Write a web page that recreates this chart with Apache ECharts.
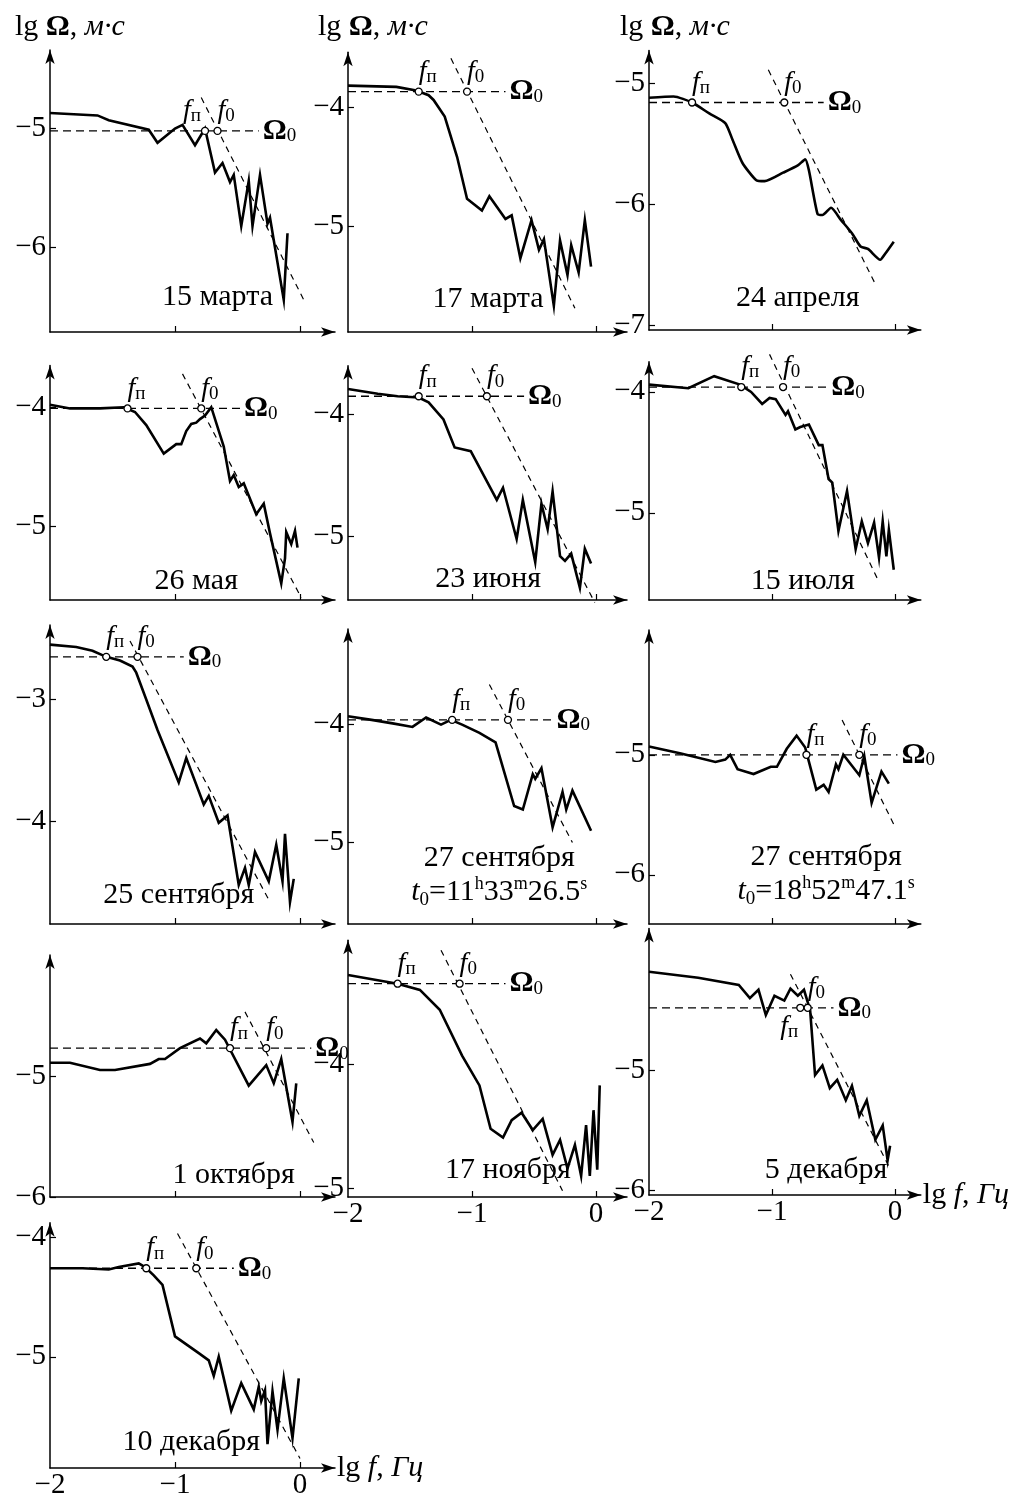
<!DOCTYPE html>
<html><head><meta charset="utf-8">
<script src="https://cdn.jsdelivr.net/npm/echarts@6/dist/echarts.min.js"></script>
<style>html,body{margin:0;padding:0;background:#fff}#c{width:1012px;height:1500px}</style>
</head><body><div id="c"></div>
<script>
// ---------- DATA (lg f [Hz], lg Ω [m·s]) ----------
const dates = ['15 марта','17 марта','24 апреля','26 мая','23 июня','15 июля','25 сентября',
  ['27 сентября','11','33','26.5'],['27 сентября','18','52','47.1'],'1 октября','17 ноября','5 декабря','10 декабря'];

const spec15Mar = [[-2,-4.87],[-1.62,-4.89],[-1.53,-4.93],[-1.21,-5.01],[-1.14,-5.12],[-1.0,-5.0],[-0.94,-4.97],[-0.84,-5.14],[-0.76,-5.0],[-0.68,-5.37],[-0.62,-5.29],[-0.56,-5.45],[-0.53,-5.39],[-0.47,-5.82],[-0.41,-5.44],[-0.38,-5.82],[-0.32,-5.39],[-0.26,-5.8],[-0.24,-5.75],[-0.13,-6.44],[-0.1,-5.88]];
const spec17Mar = [[-2,-3.82],[-1.61,-3.83],[-1.45,-3.86],[-1.35,-3.9],[-1.31,-3.94],[-1.22,-4.08],[-1.12,-4.42],[-1.04,-4.77],[-0.92,-4.87],[-0.86,-4.75],[-0.73,-4.94],[-0.68,-4.91],[-0.61,-5.27],[-0.52,-4.95],[-0.46,-5.2],[-0.42,-5.11],[-0.34,-5.67],[-0.29,-5.12],[-0.23,-5.41],[-0.2,-5.16],[-0.14,-5.39],[-0.09,-4.95],[-0.04,-5.34]];
const spec24Apr = [[-2,-5.12],[-1.8,-5.11],[-1.65,-5.16],[-1.51,-5.25],[-1.38,-5.33],[-1.32,-5.47],[-1.24,-5.66],[-1.13,-5.8],[-1.06,-5.81],[-0.91,-5.74],[-0.79,-5.68],[-0.73,-5.63],[-0.7,-5.72],[-0.63,-6.08],[-0.59,-6.09],[-0.52,-6.03],[-0.44,-6.13],[-0.35,-6.24],[-0.28,-6.35],[-0.22,-6.37],[-0.12,-6.46],[-0.08,-6.41],[-0.01,-6.31]];
const spec26May = [[-2,-3.98],[-1.84,-4.01],[-1.6,-4.01],[-1.41,-4.0],[-1.32,-4.04],[-1.23,-4.15],[-1.09,-4.39],[-0.99,-4.31],[-0.95,-4.31],[-0.91,-4.2],[-0.87,-4.14],[-0.83,-4.13],[-0.8,-4.1],[-0.76,-4.07],[-0.71,-4.0],[-0.61,-4.33],[-0.56,-4.62],[-0.53,-4.57],[-0.49,-4.67],[-0.45,-4.64],[-0.35,-4.9],[-0.29,-4.81],[-0.24,-5.06],[-0.15,-5.48],[-0.12,-5.27],[-0.11,-5.05],[-0.07,-5.15],[-0.04,-5.04],[-0.02,-5.18]];
const spec23Jun = [[-2,-3.79],[-1.76,-3.83],[-1.6,-3.85],[-1.43,-3.86],[-1.35,-3.9],[-1.23,-4.04],[-1.14,-4.27],[-1.01,-4.3],[-0.8,-4.7],[-0.75,-4.6],[-0.64,-5.02],[-0.59,-4.7],[-0.49,-5.21],[-0.44,-4.73],[-0.39,-4.94],[-0.35,-4.63],[-0.29,-5.16],[-0.25,-5.2],[-0.2,-5.14],[-0.13,-5.42],[-0.09,-5.1],[-0.04,-5.22]];
const spec15Jul = [[-2,-3.94],[-1.68,-3.97],[-1.47,-3.87],[-1.26,-3.94],[-1.17,-4.0],[-1.08,-4.1],[-1.02,-4.05],[-0.97,-4.06],[-0.89,-4.19],[-0.87,-4.16],[-0.81,-4.31],[-0.77,-4.29],[-0.7,-4.27],[-0.62,-4.44],[-0.59,-4.44],[-0.54,-4.72],[-0.51,-4.75],[-0.46,-5.15],[-0.39,-4.82],[-0.32,-5.3],[-0.27,-5.07],[-0.22,-5.25],[-0.17,-5.08],[-0.13,-5.37],[-0.1,-5.07],[-0.07,-5.36],[-0.05,-5.14],[-0.01,-5.47]];
const spec25Sep = [[-2,-2.55],[-1.79,-2.57],[-1.66,-2.6],[-1.55,-2.65],[-1.44,-2.68],[-1.34,-2.73],[-1.31,-2.78],[-1.23,-3.0],[-1.14,-3.25],[-0.97,-3.68],[-0.91,-3.48],[-0.77,-3.86],[-0.73,-3.79],[-0.65,-4.01],[-0.58,-3.95],[-0.49,-4.52],[-0.44,-4.38],[-0.41,-4.52],[-0.36,-4.25],[-0.25,-4.49],[-0.19,-4.19],[-0.14,-4.49],[-0.12,-4.1],[-0.08,-4.66],[-0.05,-4.47]];
const spec27SepA = [[-2,-3.93],[-1.81,-3.96],[-1.64,-3.99],[-1.48,-4.02],[-1.37,-3.94],[-1.25,-4.0],[-1.17,-3.96],[-1.08,-4.0],[-0.94,-4.07],[-0.81,-4.15],[-0.66,-4.69],[-0.59,-4.72],[-0.51,-4.42],[-0.49,-4.46],[-0.44,-4.37],[-0.35,-4.87],[-0.27,-4.57],[-0.24,-4.72],[-0.19,-4.56],[-0.04,-4.9]];
const spec27SepB = [[-2,-4.93],[-1.74,-4.99],[-1.46,-5.06],[-1.38,-5.04],[-1.34,-5.0],[-1.28,-5.12],[-1.15,-5.16],[-1.01,-5.1],[-0.96,-5.1],[-0.88,-4.95],[-0.8,-4.84],[-0.73,-4.94],[-0.64,-5.29],[-0.58,-5.25],[-0.54,-5.31],[-0.48,-5.08],[-0.46,-5.12],[-0.42,-5.0],[-0.29,-5.17],[-0.25,-5.01],[-0.19,-5.4],[-0.11,-5.14],[-0.05,-5.24]];
const spec1Oct = [[-2,-4.89],[-1.84,-4.89],[-1.6,-4.95],[-1.48,-4.95],[-1.2,-4.9],[-1.13,-4.86],[-1.08,-4.86],[-0.96,-4.77],[-0.8,-4.69],[-0.75,-4.73],[-0.67,-4.62],[-0.6,-4.7],[-0.41,-5.08],[-0.27,-4.91],[-0.21,-5.06],[-0.15,-4.86],[-0.06,-5.38],[-0.03,-5.06]];
const spec17Nov = [[-2,-3.28],[-1.6,-3.35],[-1.42,-3.4],[-1.26,-3.56],[-1.08,-3.93],[-0.94,-4.17],[-0.85,-4.52],[-0.75,-4.59],[-0.68,-4.45],[-0.6,-4.39],[-0.51,-4.53],[-0.43,-4.44],[-0.35,-4.73],[-0.29,-4.61],[-0.23,-4.84],[-0.17,-4.65],[-0.12,-4.9],[-0.08,-4.49],[-0.05,-4.9],[-0.02,-4.37],[0.01,-4.85],[0.03,-4.17]];
const spec5Dec = [[-2,-4.18],[-1.6,-4.23],[-1.27,-4.29],[-1.18,-4.4],[-1.11,-4.33],[-1.05,-4.54],[-0.98,-4.38],[-0.9,-4.42],[-0.85,-4.32],[-0.79,-4.38],[-0.74,-4.33],[-0.69,-4.5],[-0.65,-5.04],[-0.59,-4.96],[-0.53,-5.15],[-0.47,-5.08],[-0.4,-5.25],[-0.35,-5.13],[-0.29,-5.38],[-0.23,-5.25],[-0.16,-5.58],[-0.1,-5.46],[-0.06,-5.75],[-0.04,-5.63]];
const spec10Dec = [[-2,-4.26],[-1.74,-4.26],[-1.53,-4.27],[-1.45,-4.25],[-1.29,-4.22],[-1.24,-4.25],[-1.17,-4.32],[-1.1,-4.4],[-1.0,-4.83],[-0.81,-4.97],[-0.73,-5.03],[-0.69,-5.16],[-0.65,-5.0],[-0.55,-5.45],[-0.47,-5.22],[-0.37,-5.44],[-0.33,-5.25],[-0.31,-5.37],[-0.28,-5.28],[-0.26,-5.73],[-0.22,-5.29],[-0.18,-5.61],[-0.13,-5.18],[-0.06,-5.68],[-0.01,-5.18]];
const spectra = [spec15Mar,spec17Mar,spec24Apr,spec26May,spec23Jun,spec15Jul,spec25Sep,spec27SepA,spec27SepB,spec1Oct,spec17Nov,spec5Dec,spec10Dec];

// Ω0 level, corner frequencies fп and f0 (lg)
const omega0 = [-5.02,-3.87,-5.16,-4.01,-3.85,-3.96,-2.65,-3.96,-5.0,-4.77,-3.35,-4.48,-4.26];
const lgfP   = [-0.76,-1.43,-1.65,-1.38,-1.43,-1.25,-1.55,-1.16,-0.72,-0.56,-1.6,-0.77,-1.23];
const lgf0   = [-0.66,-1.04,-0.9,-0.79,-0.88,-0.91,-1.3,-0.71,-0.29,-0.27,-1.1,-0.71,-0.83];
const omegaLineEnd = [-0.33,-0.73,-0.58,-0.48,-0.58,-0.55,-0.93,-0.35,0.02,0.09,-0.73,-0.5,-0.53];
// f^-2 asymptote end points
const slopeStart = [[-0.79,-4.74],[-1.17,-3.59],[-1.03,-4.89],[-0.94,-3.72],[-1.0,-3.62],[-1.02,-3.69],[-1.36,-2.52],[-0.86,-3.66],[-0.43,-4.71],[-0.44,-4.47],[-1.25,-3.08],[-0.85,-4.2],[-0.98,-3.97]];
const slopeEnd   = [[0.04,-6.46],[-0.17,-5.69],[-0.16,-6.66],[0.01,-5.6],[-0.01,-5.54],[-0.14,-5.55],[-0.24,-4.66],[-0.19,-5.0],[-0.01,-5.58],[0.11,-5.55],[-0.27,-5.02],[-0.05,-5.8],[0.0,-5.85]];
// date label anchors (centre)
const dateAnchor = [[-0.66,-6.42],[-0.87,-5.61],[-0.79,-6.78],[-0.83,-5.46],[-0.87,-5.35],[-0.75,-5.56],[-0.97,-4.6],[-0.78,-5.275],[-0.56,-5.995],[-0.53,-5.82],[-0.71,-4.85],[-0.56,-5.83],[-0.87,-5.71]];
// tick labels
const yTickVals = [[-6,-5],[-5,-4],[-7,-6,-5],[-5,-4],[-5,-4],[-5,-4],[-4,-3],[-5,-4],[-6,-5],[-6,-5],[-5,-4],[-6,-5],[-5,-4]];
const xTickVals = [-2,-1,0];

// ---------- LAYOUT ----------
const colLeft = [50,348,649], unitX = [125,124,123], xMaxes = [0.28,0.25,0.21];
const layout = [
  {col:0,bottom:332,yMin:-6.71,yMax:-4.34,uy:119},
  {col:1,bottom:332,yMin:-5.89,yMax:-3.54,uy:119},
  {col:2,bottom:330,yMin:-7.04,yMax:-4.73,uy:121,smooth:0.2},
  {col:0,bottom:600,yMin:-5.62,yMax:-3.65,uy:119},
  {col:1,bottom:600,yMin:-5.52,yMax:-3.6,uy:122},
  {col:2,bottom:600,yMin:-5.72,yMax:-3.75,uy:121},
  {col:0,bottom:924,yMin:-4.84,yMax:-2.39,uy:122},
  {col:1,bottom:924,yMin:-5.69,yMax:-3.19,uy:118},
  {col:2,bottom:924,yMin:-6.41,yMax:-3.96,uy:120},
  {col:0,bottom:1197,yMin:-6.0,yMax:-4.0,uy:121},
  {col:1,bottom:1197,yMin:-5.07,yMax:-3.0,uy:124,xLabels:true},
  {col:2,bottom:1195,yMin:-6.04,yMax:-3.82,uy:120,xLabels:true,xName:true},
  {col:0,bottom:1477,yMin:-5.93,yMax:-3.88,uy:124,xLabels:true,xName:true}
];
const fpSide = ['left','right','right','right','right','right','right','right','right','right','right','below','right'];

const SERIF = 'Liberation Serif';
const INK = '#000';
const T = {color:INK,textBorderWidth:0,textBorderColor:'transparent',textShadowBlur:0,opacity:1};
const rich = {
  n:Object.assign({fontFamily:SERIF,fontSize:30,lineHeight:34},T),
  i:Object.assign({fontFamily:SERIF,fontSize:30,fontStyle:'italic',lineHeight:34},T),
  b:Object.assign({fontFamily:SERIF,fontSize:30,fontWeight:'bold',lineHeight:34},T),
  f:Object.assign({fontFamily:SERIF,fontSize:28,fontStyle:'italic',lineHeight:30},T),
  s:Object.assign({fontFamily:SERIF,fontSize:19,lineHeight:15,verticalAlign:'bottom'},T),
  o:Object.assign({fontFamily:SERIF,fontSize:30,fontWeight:'bold',lineHeight:30},T),
  sup:Object.assign({fontFamily:SERIF,fontSize:18,lineHeight:16,verticalAlign:'top'},T),
  ts:Object.assign({fontFamily:SERIF,fontSize:19,lineHeight:14,verticalAlign:'bottom'},T)
};
const minus = v => String(v).replace('-', '\u2212');

const grids=[], xAxes=[], yAxes=[], series=[];
layout.forEach((L,i)=>{
  const c=L.col, h=(L.yMax-L.yMin)*L.uy;
  grids.push({left:colLeft[c], top:L.bottom-h, width:(xMaxes[c]+2)*unitX[c], height:h});
  xAxes.push({gridIndex:i,type:'value',min:-2,max:xMaxes[c],splitLine:{show:false},
    axisLine:{onZero:false,lineStyle:{color:INK,width:1.5},symbol:['none','arrow'],symbolSize:[7,14]},
    axisTick:{inside:true,length:6,customValues:[-1,0],lineStyle:{color:INK,width:1.2}},
    axisLabel:{show:!!L.xLabels,customValues:xTickVals,formatter:minus,fontFamily:SERIF,fontSize:29,color:INK,margin:3},
    name:L.xName?'{n|lg }{i|f}{n|, }{i|Гц}':'',nameLocation:'end',nameGap:2,
    nameTextStyle:{rich:rich,align:'left',verticalAlign:'middle'}
  });
  yAxes.push({gridIndex:i,type:'value',min:L.yMin,max:L.yMax,splitLine:{show:false},
    axisLine:{onZero:false,lineStyle:{color:INK,width:1.5},symbol:['none','arrow'],symbolSize:[7,14]},
    axisTick:{inside:true,length:6,customValues:yTickVals[i],lineStyle:{color:INK,width:1.2}},
    axisLabel:{customValues:yTickVals[i],formatter:minus,fontFamily:SERIF,fontSize:29,color:INK,margin:4}
  });
  const ax={xAxisIndex:i,yAxisIndex:i,silent:true,animation:false};
  series.push(Object.assign({type:'line',data:spectra[i],symbol:'none',smooth:L.smooth||false,clip:false,z:4,
    lineStyle:{color:INK,width:2.6,join:'miter'}},ax));
  series.push(Object.assign({type:'line',data:[[-2,omega0[i]],[omegaLineEnd[i],omega0[i]]],symbol:'none',z:3,clip:false,
    lineStyle:{color:INK,width:1.3,type:[8,5]},
    endLabel:Object.assign({show:true,formatter:'{o|Ω}{s|0}',rich:rich,distance:4},T)},ax));
  series.push(Object.assign({type:'line',data:[slopeStart[i],slopeEnd[i]],symbol:'none',z:3,clip:false,
    lineStyle:{color:INK,width:1.2,type:[6,5]}},ax));
  const side=fpSide[i];
  const fpLabel = side==='left'?{position:'top',align:'right',distance:1,offset:[-4,0]}
                : side==='below'?{position:'bottom',align:'right',distance:0,offset:[-2,0]}
                : {position:'top',align:'left',distance:1,offset:[0,0]};
  series.push(Object.assign({type:'scatter',symbol:'circle',symbolSize:7,z:6,clip:false,
    itemStyle:{color:'#fff',borderColor:INK,borderWidth:1.3,opacity:1},
    label:Object.assign({show:true,rich:rich},T),
    data:[{value:[lgfP[i],omega0[i]],label:Object.assign({formatter:'{f|f}{s|п}'},fpLabel,T)},
          {value:[lgf0[i],omega0[i]],label:Object.assign({position:'top',align:'left',distance:1,formatter:'{f|f}{s|0}'},T)}]},ax));
  const d=dates[i];
  const txt = Array.isArray(d) ? '{n|'+d[0]+'}\n{i|t}{ts|0}{n|='+d[1]+'}{sup|h}{n|'+d[2]+'}{sup|m}{n|'+d[3]+'}{sup|s}' : '{n|'+d+'}';
  series.push(Object.assign({type:'scatter',symbolSize:0,z:5,clip:false,itemStyle:{color:'#fff',opacity:1},
    label:Object.assign({show:true,position:'inside',formatter:txt,rich:rich,align:'center',verticalAlign:'middle'},T),
    data:[dateAnchor[i]]},ax));
});

const titleRich = '{n|lg }{b|Ω}{n|, }{i|м·с}';
const graphic = [15,318,620].map(x=>({type:'text',left:x,top:12,style:{text:titleRich,rich:rich,fill:INK}}));

const chart = echarts.init(document.getElementById('c'),null,{renderer:'canvas'});
chart.setOption({animation:false,backgroundColor:'#fff',grid:grids,xAxis:xAxes,yAxis:yAxes,series:series,graphic:graphic});
</script></body></html>
